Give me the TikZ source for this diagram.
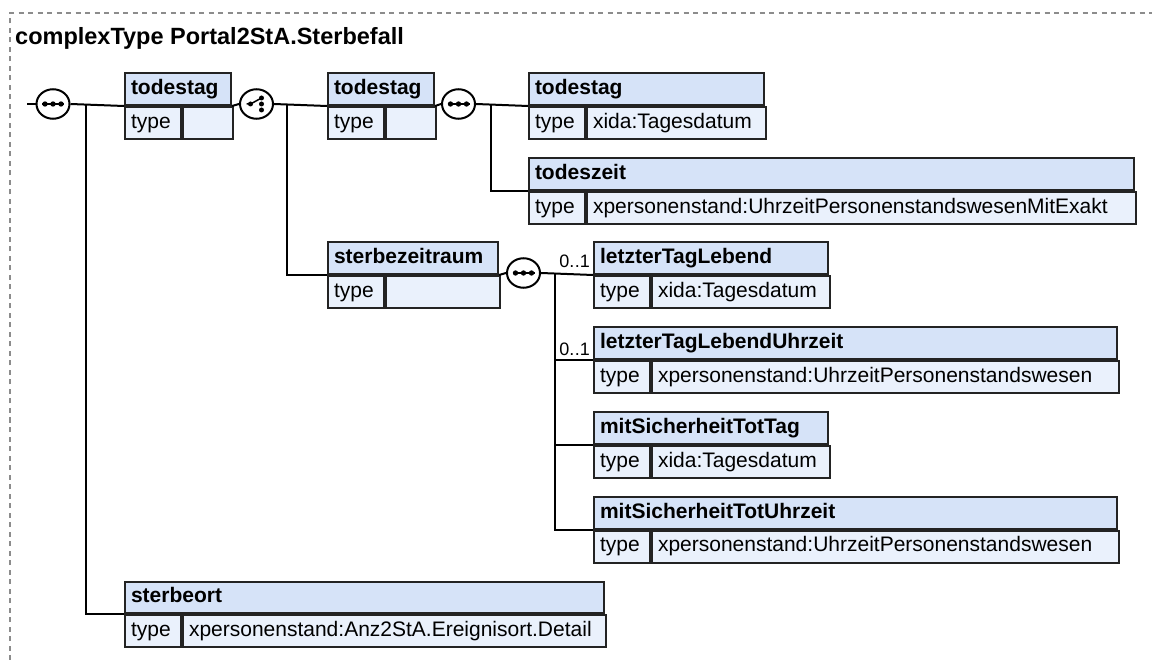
\documentclass[tikz,border=0pt]{standalone}
\usepackage{fontspec}
\setmainfont{Liberation Sans}
\usetikzlibrary{shapes.geometric}
\definecolor{hdrfill}{RGB}{214,227,248}
\definecolor{rowfill}{RGB}{234,241,252}
\definecolor{bordercol}{RGB}{35,35,35}
\definecolor{framecol}{RGB}{140,140,140}
\tikzset{
  cell/.style={draw=bordercol, line width=2pt, rectangle, anchor=north west, inner xsep=6pt, inner ysep=0pt, align=left, text height=15pt, text depth=4.5pt},
  hdr/.style={cell, fill=hdrfill, minimum height=31.5pt, font=\bfseries\fontsize{21}{24}\selectfont},
  rowcell/.style={cell, fill=rowfill, minimum height=32pt, font=\fontsize{21}{24}\selectfont},
  conn/.style={line width=2pt, draw=black},
  comp/.style={ellipse, draw=black, fill=white, line width=2pt, minimum width=33pt, minimum height=29.5pt, inner sep=0pt},
  mult/.style={font=\fontsize{18}{20}\selectfont, inner sep=0pt, anchor=base east},
}
\newcommand{\xsdbox}[6]{%
  \pgfmathsetmacro{\hw}{#4-12}%
  \pgfmathsetmacro{\vw}{#4-56-12}%
  \pgfmathsetmacro{\tp}{#3-31.5}%
  \node[hdr, text width=\hw pt] (#1) at (#2,\tp) {#5};
  \node[rowcell, text width=44pt] (#1-t) at (#1.south west) {type};
  \node[rowcell, text width=\vw pt] (#1-v) at (#1-t.north east) {#6};
}
\newcommand{\seqicon}[1]{%
  \draw[line width=1.5pt] ([xshift=-11pt]#1.center) -- ([xshift=11pt]#1.center);
  \foreach \dx in {-8,0,8} \fill ([xshift=\dx pt]#1.center) circle (2.7pt);
}
\newcommand{\choiceicon}[1]{%
  \draw[line width=1.5pt] ([xshift=-10pt]#1.center) -- ([xshift=-6pt]#1.center) -- ([xshift=5pt,yshift=6pt]#1.center);
  \foreach \dy in {6,0,-6} \fill ([xshift=5pt,yshift=\dy pt]#1.center) circle (2.5pt);
  \fill ([xshift=-6pt]#1.center) circle (2.5pt);
}
\newcommand{\zeroone}{0.\hspace{0.5pt}.1}
\begin{document}
\begin{tikzpicture}[x=1pt,y=-1pt]
\useasboundingbox (0,0) rectangle (1152,660);
\fill[white] (0,0) rectangle (1152,660);
\draw[framecol, line width=1.3pt, dash pattern=on 5pt off 4.5pt] (10,660) -- (10,13) -- (1152,13);
\node[anchor=base west, inner sep=0pt, font=\bfseries\fontsize{23.5}{28}\selectfont] (title) at (15,45) {complexType Portal2StA.Sterbefall};

\coordinate (lead) at (27,104);
\coordinate (b1) at (86,104);
\coordinate (b2) at (287,104);
\coordinate (b3) at (491,104);
\coordinate (b4) at (555,273);

\xsdbox{tA}{124}{104}{106}{todestag}{}
\xsdbox{tB}{327}{104}{106}{todestag}{}
\xsdbox{tC}{528}{104}{235}{todestag}{xida:Tagesdatum}
\xsdbox{tZ}{528}{189}{605}{todeszeit}{xpersonenstand:UhrzeitPersonenstandswesenMitExakt}
\xsdbox{sz}{327}{273}{170}{sterbezeitraum}{}
\xsdbox{lA}{593}{273}{234}{letzterTagLebend}{xida:Tagesdatum}
\xsdbox{lB}{593}{358}{523}{letzterTagLebendUhrzeit}{xpersonenstand:UhrzeitPersonenstandswesen}
\xsdbox{mA}{593}{443}{234}{mitSicherheitTotTag}{xida:Tagesdatum}
\xsdbox{mB}{593}{527.5}{523}{mitSicherheitTotUhrzeit}{xpersonenstand:UhrzeitPersonenstandswesen}
\xsdbox{so}{124}{612}{479}{sterbeort}{xpersonenstand:Anz2StA.Ereignisort.Detail}

\node[comp] (s1) at (53,104) {};
\node[comp] (c1) at (256.5,104) {};
\node[comp] (s2) at (458.5,104) {};
\node[comp] (s3) at (523.5,273) {};

\draw[conn] (lead) -- (s1.west);
\draw[conn] (s1.east) -- (tA.south west);
\draw[conn] (b1) |- (so.south west);
\draw[conn] (tA.south east) -- (c1.west);
\draw[conn] (c1.east) -- (tB.south west);
\draw[conn] (b2) |- (sz.south west);
\draw[conn] (tB.south east) -- (s2.west);
\draw[conn] (s2.east) -- (tC.south west);
\draw[conn] (b3) |- (tZ.south west);
\draw[conn] (sz.south east) -- (s3.west);
\draw[conn] (s3.east) -- (lA.south west);
\draw[conn] (b4) |- (lB.south west);
\draw[conn] (b4) |- (mA.south west);
\draw[conn] (b4) |- (mB.south west);

\seqicon{s1}
\choiceicon{c1}
\seqicon{s2}
\seqicon{s3}

\node[mult] (mlA) at (590,268) {\zeroone};
\node[mult] (mlB) at (590,356) {\zeroone};
\end{tikzpicture}
\end{document}
